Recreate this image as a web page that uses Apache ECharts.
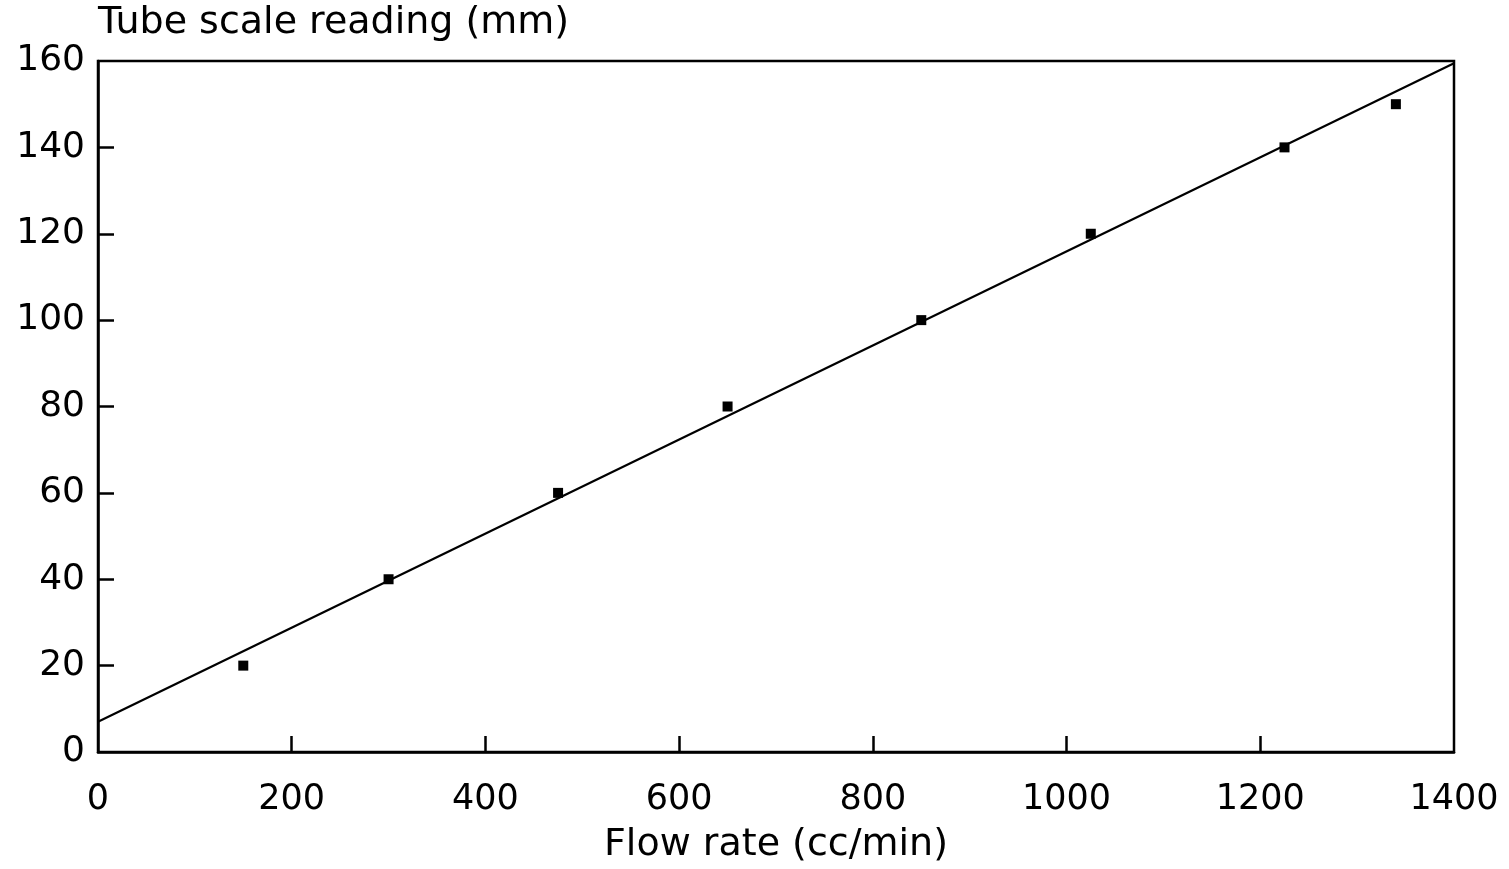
<!DOCTYPE html>
<html>
<head>
<meta charset="utf-8">
<script src="https://cdn.jsdelivr.net/npm/echarts@6/dist/echarts.min.js"></script>
<style>
  html, body { margin: 0; padding: 0; background: #fff; }
  #chart { width: 1509px; height: 869px; }
</style>
</head>
<body>
<div id="chart"></div>
<script>
// Measured readings: flow rate (cc/min) vs tube scale reading (mm)
const flowRate = [150, 300, 475, 650, 850, 1025, 1225, 1340];
const scaleReading = [20, 40, 60, 80, 100, 120, 140, 150];
// Calibration fit line endpoints
const fitFlow = [0, 1400];
const fitReading = [7, 159.5];

// Tick marks (the frame edges at 1400 / 160 carry no tick)
const xTickMarks = [200, 400, 600, 800, 1000, 1200];
const yTickMarks = [20, 40, 60, 80, 100, 120, 140];

const xTicks = { min: 0, max: 1400, interval: 200 };
const yTicks = { min: 0, max: 160, interval: 20 };

const FONT = 'DejaVu Sans';
const INK = '#000';

const chart = echarts.init(document.getElementById('chart'), null, { renderer: 'canvas' });

const points = flowRate.map((x, i) => [x, scaleReading[i]]);
const fit = fitFlow.map((x, i) => [x, fitReading[i]]);

chart.setOption({
  animation: false,
  backgroundColor: '#fff',
  grid: {
    left: 98, right: 55, top: 61, bottom: 116,
    show: true, borderColor: INK, borderWidth: 2.5, backgroundColor: 'transparent'
  },
  xAxis: {
    type: 'value',
    min: xTicks.min, max: xTicks.max, interval: xTicks.interval,
    name: 'Flow rate (cc/min)',
    nameLocation: 'middle',
    nameGap: 74,
    nameTextStyle: { fontFamily: FONT, fontSize: 38, color: INK },
    axisLine: { show: true, lineStyle: { color: INK, width: 2.5 } },
    axisTick: { show: true, inside: true, length: 16, customValues: xTickMarks, lineStyle: { color: INK, width: 2.5 } },
    axisLabel: { fontFamily: FONT, fontSize: 35, color: INK, margin: 30, formatter: v => String(v) },
    splitLine: { show: false }
  },
  yAxis: {
    type: 'value',
    min: yTicks.min, max: yTicks.max, interval: yTicks.interval,
    name: 'Tube scale reading (mm)',
    nameLocation: 'end',
    nameGap: 19,
    nameTextStyle: { fontFamily: FONT, fontSize: 38, color: INK, align: 'left', verticalAlign: 'bottom' },
    axisLine: { show: true, lineStyle: { color: INK, width: 2.5 } },
    axisTick: { show: true, inside: true, length: 16, customValues: yTickMarks, lineStyle: { color: INK, width: 2.5 } },
    axisLabel: { fontFamily: FONT, fontSize: 36, color: INK, margin: 13, formatter: v => String(v) },
    splitLine: { show: false }
  },
  series: [
    {
      type: 'line',
      data: fit,
      symbol: 'none',
      lineStyle: { color: INK, width: 2.2 },
      z: 2
    },
    {
      type: 'scatter',
      data: points,
      symbol: 'rect',
      symbolSize: 10,
      itemStyle: { color: INK, opacity: 1 },
      z: 3
    }
  ]
});
</script>
</body>
</html>
